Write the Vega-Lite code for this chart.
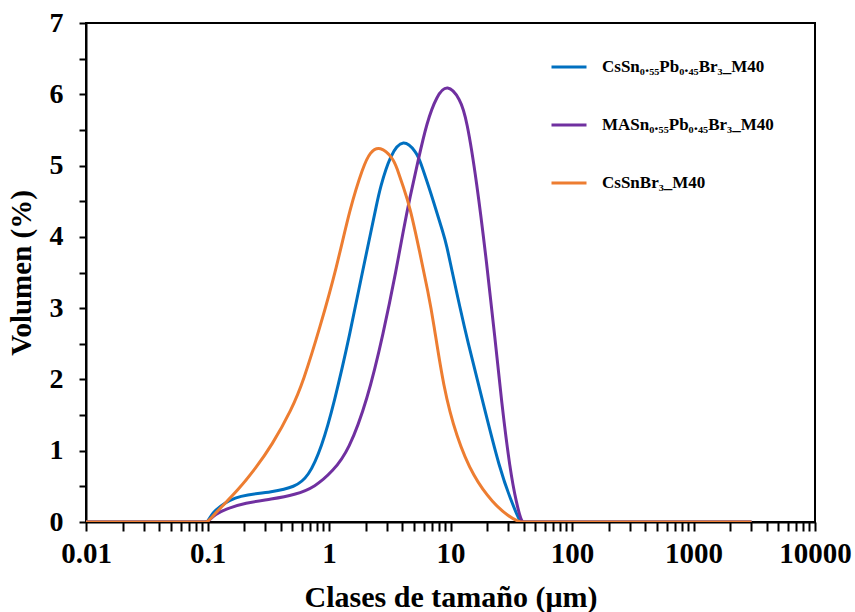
{
  "$schema": "https://vega.github.io/schema/vega-lite/v6.json",
  "width": 729,
  "height": 499,
  "autosize": "none",
  "padding": {"left": 86, "top": 23, "right": 40, "bottom": 90},
  "background": "white",
  "config": {
    "view": {"stroke": "black", "strokeWidth": 2},
    "font": "Liberation Serif",
    "axis": {"domainColor": "black", "domainWidth": 2, "tickColor": "black", "tickWidth": 2, "labelColor": "black", "titleColor": "black", "labelFont": "Liberation Serif", "titleFont": "Liberation Serif", "labelFontWeight": "bold", "titleFontWeight": "bold", "grid": false}
  },
  "data": {"values": [
    {"s": "CsSn₀.₅₅Pb₀.₄₅Br₃_M40", "x": 0.01, "y": 0},
    {"s": "CsSn₀.₅₅Pb₀.₄₅Br₃_M40", "x": 0.03, "y": 0},
    {"s": "CsSn₀.₅₅Pb₀.₄₅Br₃_M40", "x": 0.06, "y": 0},
    {"s": "CsSn₀.₅₅Pb₀.₄₅Br₃_M40", "x": 0.085, "y": 0},
    {"s": "CsSn₀.₅₅Pb₀.₄₅Br₃_M40", "x": 0.095, "y": 0},
    {"s": "CsSn₀.₅₅Pb₀.₄₅Br₃_M40", "x": 0.1, "y": 0},
    {"s": "CsSn₀.₅₅Pb₀.₄₅Br₃_M40", "x": 0.107, "y": 0.09},
    {"s": "CsSn₀.₅₅Pb₀.₄₅Br₃_M40", "x": 0.115, "y": 0.16},
    {"s": "CsSn₀.₅₅Pb₀.₄₅Br₃_M40", "x": 0.139, "y": 0.27},
    {"s": "CsSn₀.₅₅Pb₀.₄₅Br₃_M40", "x": 0.17, "y": 0.34},
    {"s": "CsSn₀.₅₅Pb₀.₄₅Br₃_M40", "x": 0.204, "y": 0.38},
    {"s": "CsSn₀.₅₅Pb₀.₄₅Br₃_M40", "x": 0.337, "y": 0.42},
    {"s": "CsSn₀.₅₅Pb₀.₄₅Br₃_M40", "x": 0.525, "y": 0.49},
    {"s": "CsSn₀.₅₅Pb₀.₄₅Br₃_M40", "x": 0.676, "y": 0.63},
    {"s": "CsSn₀.₅₅Pb₀.₄₅Br₃_M40", "x": 0.871, "y": 1.05},
    {"s": "CsSn₀.₅₅Pb₀.₄₅Br₃_M40", "x": 1.1, "y": 1.66},
    {"s": "CsSn₀.₅₅Pb₀.₄₅Br₃_M40", "x": 1.49, "y": 2.64},
    {"s": "CsSn₀.₅₅Pb₀.₄₅Br₃_M40", "x": 1.915, "y": 3.57},
    {"s": "CsSn₀.₅₅Pb₀.₄₅Br₃_M40", "x": 2.17, "y": 4.0},
    {"s": "CsSn₀.₅₅Pb₀.₄₅Br₃_M40", "x": 2.47, "y": 4.46},
    {"s": "CsSn₀.₅₅Pb₀.₄₅Br₃_M40", "x": 2.63, "y": 4.68},
    {"s": "CsSn₀.₅₅Pb₀.₄₅Br₃_M40", "x": 3.18, "y": 5.15},
    {"s": "CsSn₀.₅₅Pb₀.₄₅Br₃_M40", "x": 4.09, "y": 5.39},
    {"s": "CsSn₀.₅₅Pb₀.₄₅Br₃_M40", "x": 5.27, "y": 5.18},
    {"s": "CsSn₀.₅₅Pb₀.₄₅Br₃_M40", "x": 5.61, "y": 5.07},
    {"s": "CsSn₀.₅₅Pb₀.₄₅Br₃_M40", "x": 6.78, "y": 4.65},
    {"s": "CsSn₀.₅₅Pb₀.₄₅Br₃_M40", "x": 7.22, "y": 4.5},
    {"s": "CsSn₀.₅₅Pb₀.₄₅Br₃_M40", "x": 8.73, "y": 4.05},
    {"s": "CsSn₀.₅₅Pb₀.₄₅Br₃_M40", "x": 9.3, "y": 3.88},
    {"s": "CsSn₀.₅₅Pb₀.₄₅Br₃_M40", "x": 10.2, "y": 3.55},
    {"s": "CsSn₀.₅₅Pb₀.₄₅Br₃_M40", "x": 12.0, "y": 3.0},
    {"s": "CsSn₀.₅₅Pb₀.₄₅Br₃_M40", "x": 13.6, "y": 2.59},
    {"s": "CsSn₀.₅₅Pb₀.₄₅Br₃_M40", "x": 18.6, "y": 1.66},
    {"s": "CsSn₀.₅₅Pb₀.₄₅Br₃_M40", "x": 25.5, "y": 0.73},
    {"s": "CsSn₀.₅₅Pb₀.₄₅Br₃_M40", "x": 31.5, "y": 0.3},
    {"s": "CsSn₀.₅₅Pb₀.₄₅Br₃_M40", "x": 37.3, "y": 0},
    {"s": "CsSn₀.₅₅Pb₀.₄₅Br₃_M40", "x": 39, "y": 0},
    {"s": "CsSn₀.₅₅Pb₀.₄₅Br₃_M40", "x": 42, "y": 0},
    {"s": "CsSn₀.₅₅Pb₀.₄₅Br₃_M40", "x": 60, "y": 0},
    {"s": "CsSn₀.₅₅Pb₀.₄₅Br₃_M40", "x": 300, "y": 0},
    {"s": "CsSn₀.₅₅Pb₀.₄₅Br₃_M40", "x": 3000, "y": 0},
    {"s": "MASn₀.₅₅Pb₀.₄₅Br₃_M40", "x": 0.01, "y": 0},
    {"s": "MASn₀.₅₅Pb₀.₄₅Br₃_M40", "x": 0.03, "y": 0},
    {"s": "MASn₀.₅₅Pb₀.₄₅Br₃_M40", "x": 0.06, "y": 0},
    {"s": "MASn₀.₅₅Pb₀.₄₅Br₃_M40", "x": 0.085, "y": 0},
    {"s": "MASn₀.₅₅Pb₀.₄₅Br₃_M40", "x": 0.095, "y": 0},
    {"s": "MASn₀.₅₅Pb₀.₄₅Br₃_M40", "x": 0.1, "y": 0},
    {"s": "MASn₀.₅₅Pb₀.₄₅Br₃_M40", "x": 0.107, "y": 0.05},
    {"s": "MASn₀.₅₅Pb₀.₄₅Br₃_M40", "x": 0.115, "y": 0.1},
    {"s": "MASn₀.₅₅Pb₀.₄₅Br₃_M40", "x": 0.139, "y": 0.18},
    {"s": "MASn₀.₅₅Pb₀.₄₅Br₃_M40", "x": 0.204, "y": 0.27},
    {"s": "MASn₀.₅₅Pb₀.₄₅Br₃_M40", "x": 0.337, "y": 0.32},
    {"s": "MASn₀.₅₅Pb₀.₄₅Br₃_M40", "x": 0.525, "y": 0.38},
    {"s": "MASn₀.₅₅Pb₀.₄₅Br₃_M40", "x": 0.767, "y": 0.49},
    {"s": "MASn₀.₅₅Pb₀.₄₅Br₃_M40", "x": 1.085, "y": 0.72},
    {"s": "MASn₀.₅₅Pb₀.₄₅Br₃_M40", "x": 1.45, "y": 1.0},
    {"s": "MASn₀.₅₅Pb₀.₄₅Br₃_M40", "x": 2.07, "y": 1.71},
    {"s": "MASn₀.₅₅Pb₀.₄₅Br₃_M40", "x": 2.8, "y": 2.64},
    {"s": "MASn₀.₅₅Pb₀.₄₅Br₃_M40", "x": 3.61, "y": 3.57},
    {"s": "MASn₀.₅₅Pb₀.₄₅Br₃_M40", "x": 4.09, "y": 4.09},
    {"s": "MASn₀.₅₅Pb₀.₄₅Br₃_M40", "x": 4.64, "y": 4.56},
    {"s": "MASn₀.₅₅Pb₀.₄₅Br₃_M40", "x": 5.43, "y": 5.08},
    {"s": "MASn₀.₅₅Pb₀.₄₅Br₃_M40", "x": 6.37, "y": 5.6},
    {"s": "MASn₀.₅₅Pb₀.₄₅Br₃_M40", "x": 7.69, "y": 5.98},
    {"s": "MASn₀.₅₅Pb₀.₄₅Br₃_M40", "x": 9.41, "y": 6.15},
    {"s": "MASn₀.₅₅Pb₀.₄₅Br₃_M40", "x": 12.0, "y": 5.94},
    {"s": "MASn₀.₅₅Pb₀.₄₅Br₃_M40", "x": 13.6, "y": 5.65},
    {"s": "MASn₀.₅₅Pb₀.₄₅Br₃_M40", "x": 16.4, "y": 4.79},
    {"s": "MASn₀.₅₅Pb₀.₄₅Br₃_M40", "x": 19.9, "y": 3.62},
    {"s": "MASn₀.₅₅Pb₀.₄₅Br₃_M40", "x": 23.2, "y": 2.59},
    {"s": "MASn₀.₅₅Pb₀.₄₅Br₃_M40", "x": 26.4, "y": 1.66},
    {"s": "MASn₀.₅₅Pb₀.₄₅Br₃_M40", "x": 30.9, "y": 0.73},
    {"s": "MASn₀.₅₅Pb₀.₄₅Br₃_M40", "x": 35, "y": 0.25},
    {"s": "MASn₀.₅₅Pb₀.₄₅Br₃_M40", "x": 38.5, "y": 0},
    {"s": "MASn₀.₅₅Pb₀.₄₅Br₃_M40", "x": 40, "y": 0},
    {"s": "MASn₀.₅₅Pb₀.₄₅Br₃_M40", "x": 43, "y": 0},
    {"s": "MASn₀.₅₅Pb₀.₄₅Br₃_M40", "x": 60, "y": 0},
    {"s": "MASn₀.₅₅Pb₀.₄₅Br₃_M40", "x": 300, "y": 0},
    {"s": "MASn₀.₅₅Pb₀.₄₅Br₃_M40", "x": 3000, "y": 0},
    {"s": "CsSnBr₃_M40", "x": 0.01, "y": 0},
    {"s": "CsSnBr₃_M40", "x": 0.03, "y": 0},
    {"s": "CsSnBr₃_M40", "x": 0.06, "y": 0},
    {"s": "CsSnBr₃_M40", "x": 0.085, "y": 0},
    {"s": "CsSnBr₃_M40", "x": 0.095, "y": 0},
    {"s": "CsSnBr₃_M40", "x": 0.1, "y": 0},
    {"s": "CsSnBr₃_M40", "x": 0.113, "y": 0.1},
    {"s": "CsSnBr₃_M40", "x": 0.13, "y": 0.21},
    {"s": "CsSnBr₃_M40", "x": 0.179, "y": 0.45},
    {"s": "CsSnBr₃_M40", "x": 0.25, "y": 0.76},
    {"s": "CsSnBr₃_M40", "x": 0.337, "y": 1.07},
    {"s": "CsSnBr₃_M40", "x": 0.493, "y": 1.58},
    {"s": "CsSnBr₃_M40", "x": 0.614, "y": 1.97},
    {"s": "CsSnBr₃_M40", "x": 0.843, "y": 2.73},
    {"s": "CsSnBr₃_M40", "x": 1.157, "y": 3.57},
    {"s": "CsSnBr₃_M40", "x": 1.49, "y": 4.41},
    {"s": "CsSnBr₃_M40", "x": 1.915, "y": 4.99},
    {"s": "CsSnBr₃_M40", "x": 2.17, "y": 5.19},
    {"s": "CsSnBr₃_M40", "x": 2.63, "y": 5.28},
    {"s": "CsSnBr₃_M40", "x": 3.38, "y": 5.1},
    {"s": "CsSnBr₃_M40", "x": 3.61, "y": 4.97},
    {"s": "CsSnBr₃_M40", "x": 4.09, "y": 4.7},
    {"s": "CsSnBr₃_M40", "x": 4.64, "y": 4.42},
    {"s": "CsSnBr₃_M40", "x": 5.61, "y": 3.77},
    {"s": "CsSnBr₃_M40", "x": 6.56, "y": 3.21},
    {"s": "CsSnBr₃_M40", "x": 7.22, "y": 2.83},
    {"s": "CsSnBr₃_M40", "x": 8.73, "y": 1.89},
    {"s": "CsSnBr₃_M40", "x": 11.2, "y": 1.19},
    {"s": "CsSnBr₃_M40", "x": 15.4, "y": 0.63},
    {"s": "CsSnBr₃_M40", "x": 22.5, "y": 0.26},
    {"s": "CsSnBr₃_M40", "x": 30, "y": 0.08},
    {"s": "CsSnBr₃_M40", "x": 36, "y": 0.01},
    {"s": "CsSnBr₃_M40", "x": 38, "y": 0},
    {"s": "CsSnBr₃_M40", "x": 40, "y": 0},
    {"s": "CsSnBr₃_M40", "x": 43, "y": 0},
    {"s": "CsSnBr₃_M40", "x": 60, "y": 0},
    {"s": "CsSnBr₃_M40", "x": 300, "y": 0},
    {"s": "CsSnBr₃_M40", "x": 3000, "y": 0}
  ]},
  "mark": {"type": "line", "interpolate": "basis", "strokeWidth": 3, "clip": true},
  "encoding": {
    "x": {
      "field": "x", "type": "quantitative",
      "scale": {"type": "log", "domain": [0.01, 10000], "nice": false},
      "axis": {
        "title": "Clases de tamaño (μm)",
        "values": [0.01,0.02,0.03,0.04,0.05,0.06,0.07,0.08,0.09,0.1,0.2,0.3,0.4,0.5,0.6,0.7,0.8,0.9,1,2,3,4,5,6,7,8,9,10,20,30,40,50,60,70,80,90,100,200,300,400,500,600,700,800,900,1000,2000,3000,4000,5000,6000,7000,8000,9000,10000],
        "labelExpr": "datum.value == 0.01 ? '0.01' : datum.value == 0.1 ? '0.1' : datum.value == 1 ? '1' : datum.value == 10 ? '10' : datum.value == 100 ? '100' : datum.value == 1000 ? '1000' : datum.value == 10000 ? '10000' : ''",
        "tickSize": 9,
        "labelFontSize": 29,
        "labelPadding": 8,
        "labelOverlap": false,
        "labelFlush": false,
        "titleFontSize": 30,
        "titlePadding": 14,
        "encode": {"ticks": {"update": {"y2": {"signal": "indexof([0.01,0.1,1,10,100,1000,10000], datum.value) >= 0 ? 9 : 6"}}}}
      }
    },
    "y": {
      "field": "y", "type": "quantitative",
      "scale": {"domain": [0, 7], "nice": false},
      "axis": {
        "title": "Volumen (%)",
        "values": [0,0.5,1,1.5,2,2.5,3,3.5,4,4.5,5,5.5,6,6.5,7],
        "labelExpr": "datum.value % 1 == 0 ? format(datum.value, 'd') : ''",
        "tickSize": 7,
        "labelFontSize": 28,
        "labelPadding": 16,
        "titleFontSize": 29,
        "titlePadding": 13
      }
    },
    "color": {
      "field": "s", "type": "nominal",
      "scale": {"domain": ["CsSn₀.₅₅Pb₀.₄₅Br₃_M40", "MASn₀.₅₅Pb₀.₄₅Br₃_M40", "CsSnBr₃_M40"], "range": ["#0070C0", "#7030A0", "#ED7D31"]},
      "legend": {
        "title": null,
        "orient": "none",
        "legendX": 464,
        "legendY": 25,
        "padding": 0,
        "symbolType": "stroke",
        "symbolSize": 1225,
        "symbolStrokeWidth": 3,
        "rowPadding": 31,
        "labelOffset": 14,
        "labelFont": "Liberation Serif",
        "labelFontSize": 17,
        "labelFontWeight": "bold",
        "labelColor": "black",
        "labelLimit": 400
      }
    }
  }
}
